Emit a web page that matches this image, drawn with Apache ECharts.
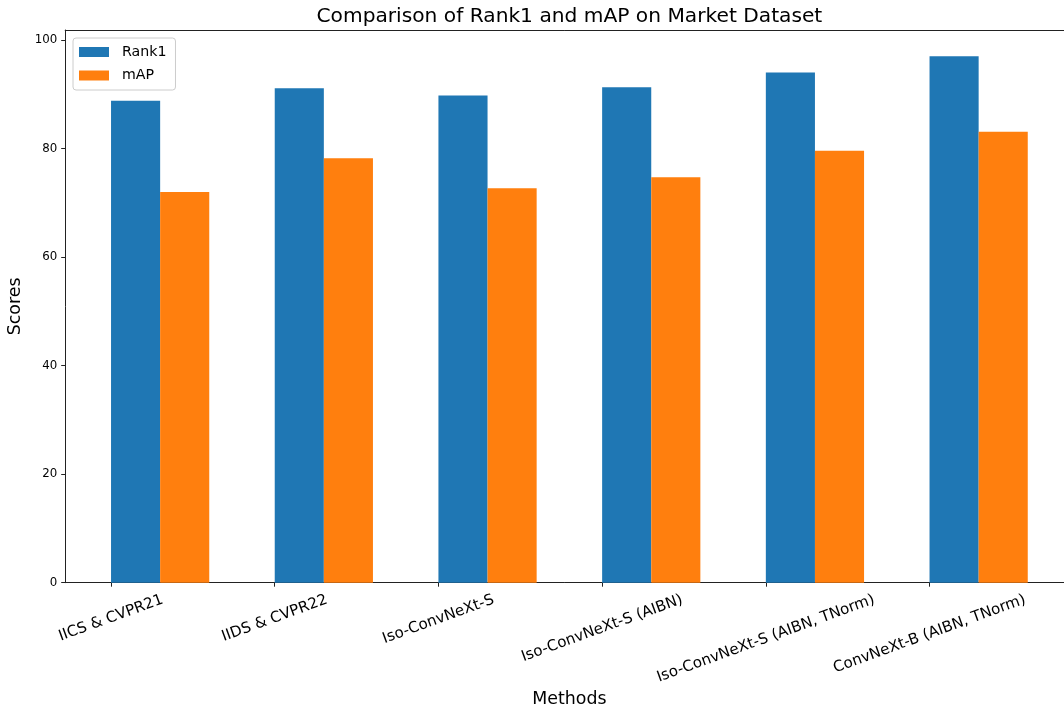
<!DOCTYPE html>
<html><head><meta charset="utf-8">
<script src="https://cdn.jsdelivr.net/npm/echarts@6/dist/echarts.min.js"></script>
<style>html,body{margin:0;padding:0;background:#fff}#chart{width:1064px;height:710px}</style>
</head><body><div id="chart"></div>
<script>
// ---- data ----
const categories = ['IICS & CVPR21', 'IIDS & CVPR22', 'Iso-ConvNeXt-S', 'Iso-ConvNeXt-S (AIBN)', 'Iso-ConvNeXt-S (AIBN, TNorm)', 'ConvNeXt-B (AIBN, TNorm)'];
const rank1 = [88.8, 91.1, 89.8, 91.3, 94.0, 97.0];
const mAP = [72.0, 78.2, 72.7, 74.7, 79.6, 83.1];
const yTicks = [0, 20, 40, 60, 80, 100];
const seriesNames = ['Rank1', 'mAP'];
const titleText = 'Comparison of Rank1 and mAP on Market Dataset';
const xName = 'Methods';
const yName = 'Scores';

// ---- layout / style ----
const FONT = '"DejaVu Sans", sans-serif';
const BAR_W = 0.3;               // bar width in axis units
const MARGIN_X = 0.28;           // matplotlib 5% margin
const xMin = -MARGIN_X;
const xMax = (categories.length - 1) + 2 * BAR_W + MARGIN_X;
const gridLeft = 65.2, unitPx = 163.7, gridTop = 30, axisY = 582.7;
const gridWidth = (xMax - xMin) * unitPx;
const gridRight = 1064 - gridLeft - gridWidth;
const gridBottom = 710 - axisY;
const barPx = BAR_W * unitPx;
const tickVals = categories.map((_, i) => i);
const pairCenters = categories.map((_, i) => i + BAR_W);

// rotated, centre-aligned tick labels (matplotlib rotation=20, ha=center)
const LF = 15.1, M = 8, rad = 20 * Math.PI / 180;
const ctx = document.createElement('canvas').getContext('2d');
ctx.font = 'normal normal ' + LF + 'px ' + FONT;
const hTok = ctx.measureText('国').width;
const rich = {};
categories.forEach((c, i) => {
  const w = ctx.measureText(c).width;
  const D = (8.3 - M) + Math.sin(rad) * w / 2 + Math.cos(rad) * (LF * 1.17) / 2;
  const pt = Math.max(0, D * Math.cos(rad) - hTok / 2);
  const pr = 2 * D * Math.sin(rad);
  rich['l' + i] = { fontFamily: FONT, fontSize: LF, color: '#000', padding: [pt, pr, 0, 0] };
});

const lineStyle = { color: '#222', width: 1 };

const chart = echarts.init(document.getElementById('chart'), null, { renderer: 'canvas' });
chart.setOption({
  animation: false,
  backgroundColor: '#fff',
  title: {
    text: titleText, left: gridLeft + gridWidth / 2, textAlign: 'center', top: 7, padding: 0,
    textStyle: { fontFamily: FONT, fontSize: 20.2, fontWeight: 'normal', color: '#000' }
  },
  legend: {
    data: seriesNames, orient: 'vertical', left: 73, top: 38,
    itemWidth: 30, itemHeight: 10, itemGap: 9.5, icon: 'rect',
    padding: [7, 9, 7.5, 6], borderColor: '#cccccc', borderWidth: 1, borderRadius: 3,
    backgroundColor: 'rgba(255,255,255,0.8)',
    textStyle: { fontFamily: FONT, fontSize: 14.2, color: '#000', padding: [0, 0, 0, 8] }
  },
  grid: { left: gridLeft, right: gridRight, top: gridTop, bottom: gridBottom, containLabel: false, outerBoundsMode: 'none' },
  xAxis: [{
    type: 'value', min: xMin, max: xMax, position: 'bottom',
    name: xName, nameLocation: 'middle', nameGap: 107,
    nameTextStyle: { fontFamily: FONT, fontSize: 17.4, color: '#000' },
    axisLine: { show: true, onZero: false, lineStyle },
    axisTick: { show: true, length: 4, customValues: tickVals, lineStyle },
    axisLabel: {
      customValues: tickVals, rotate: 20, align: 'center', verticalAlign: 'top', margin: M,
      fontFamily: FONT, fontSize: LF, color: '#000',
      formatter: (v) => { const i = Math.round(v); return '{l' + i + '|' + categories[i] + '}'; },
      rich
    },
    splitLine: { show: false }
  }, {
    type: 'value', min: xMin, max: xMax, position: 'top',
    axisLine: { show: true, onZero: false, lineStyle },
    axisTick: { show: false }, axisLabel: { show: false }, splitLine: { show: false }
  }],
  yAxis: {
    type: 'value', min: 0, max: Math.max(...rank1, ...mAP) * 1.05, interval: 20,
    name: yName, nameLocation: 'middle', nameGap: 35,
    nameTextStyle: { fontFamily: FONT, fontSize: 17.4, color: '#000' },
    axisLine: { show: true, onZero: false, lineStyle },
    axisTick: { show: true, length: 4, customValues: yTicks, lineStyle },
    axisLabel: { customValues: yTicks, fontFamily: FONT, fontSize: 11.8, color: '#000', margin: 8 },
    splitLine: { show: false }
  },
  series: [{
    name: seriesNames[0], type: 'bar', barWidth: barPx, barGap: '0%',
    itemStyle: { color: '#1f77b4' },
    data: rank1.map((v, i) => [pairCenters[i], v])
  }, {
    name: seriesNames[1], type: 'bar', barWidth: barPx, barGap: '0%',
    itemStyle: { color: '#ff7f0e' },
    data: mAP.map((v, i) => [pairCenters[i], v])
  }]
});
</script>
</body></html>
